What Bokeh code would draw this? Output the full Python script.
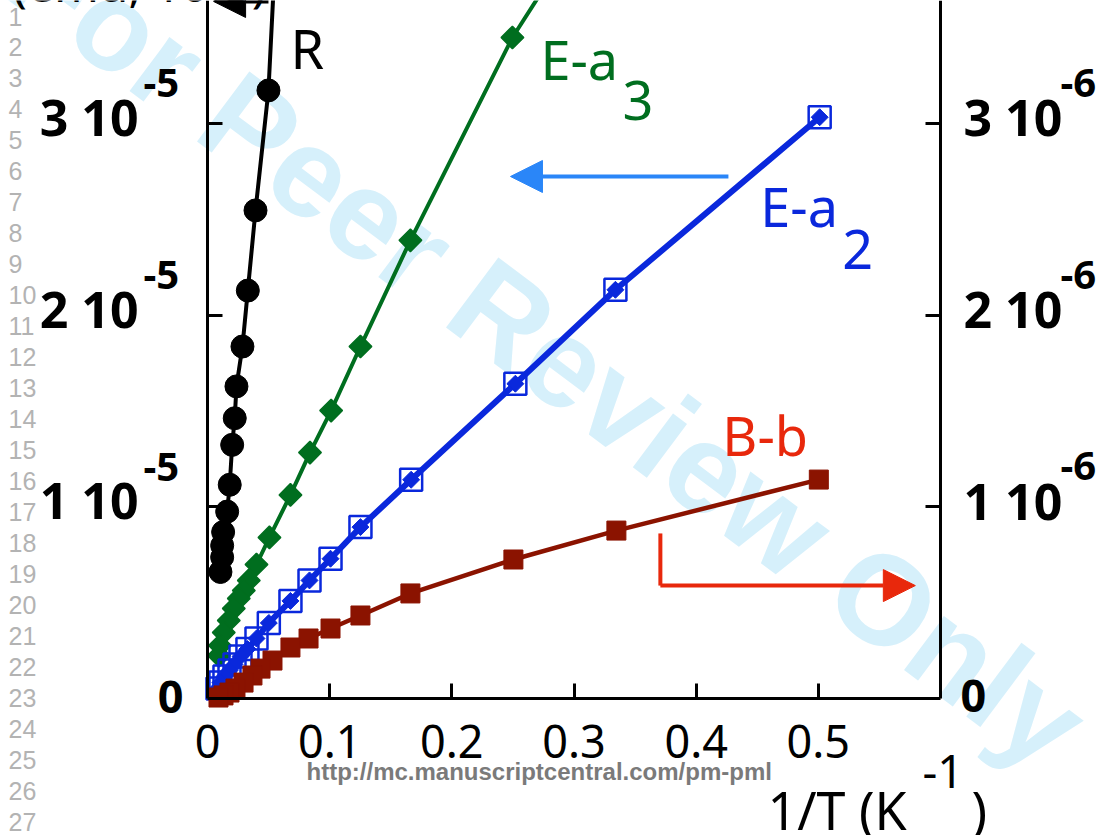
from bokeh.plotting import figure
from bokeh.models import Range1d, LinearAxis, FixedTicker, Label, Arrow, NormalHead
from bokeh.embed import file_html
from bokeh.resources import INLINE

# 1/T (K^-1) against the measured quantity.
# R, E-a3 and E-a2 are read on the left axis (units of 1e-5),
# B-b on the right axis (units of 1e-6).
r_x = [0.0667, 0.0499, 0.0393, 0.0330, 0.0286, 0.0237, 0.0223, 0.0202,
       0.0182, 0.0161, 0.0128, 0.0120, 0.0120, 0.0106]
r_y = [5.30, 3.172, 2.546, 2.128, 1.836, 1.628, 1.462, 1.323,
       1.115, 0.975, 0.868, 0.798, 0.737, 0.66]

ea3_x = [0.3333, 0.2496, 0.1661, 0.1252, 0.1012, 0.0839, 0.0679, 0.0507,
         0.0401, 0.0338, 0.0297, 0.0256, 0.0215, 0.0174, 0.0133, 0.0102, 0.0094]
ea3_y = [4.28, 3.448, 2.390, 1.836, 1.502, 1.283, 1.062, 0.840,
         0.699, 0.616, 0.563, 0.522, 0.469, 0.407, 0.344, 0.276, 0.224]

ea2_x = [0.5011, 0.3339, 0.2520, 0.1667, 0.1252, 0.1007, 0.0835, 0.0679,
         0.0502, 0.0401, 0.0327, 0.0270, 0.0221, 0.0180, 0.0139, 0.0106, 0.0082]
ea2_y = [3.032, 2.132, 1.642, 1.141, 0.894, 0.729, 0.616, 0.509,
         0.394, 0.313, 0.258, 0.219, 0.177, 0.146, 0.115, 0.083, 0.052]

bb_x = [0.5004, 0.3347, 0.2504, 0.1661, 0.1252, 0.1007, 0.0827, 0.0679,
        0.0532, 0.0434, 0.0368, 0.0295, 0.0229, 0.0180, 0.0131, 0.0090]
bb_y = [1.142, 0.876, 0.725, 0.548, 0.433, 0.365, 0.313, 0.266,
        0.198, 0.156, 0.120, 0.083, 0.052, 0.031, 0.016, 0.005]

x_tick_values = [0, 0.1, 0.2, 0.3, 0.4, 0.5]
x_tick_labels = ["0", "0.1", "0.2", "0.3", "0.4", "0.5"]
left_tick_values = [1, 2, 3]
left_tick_labels = ["1 10", "2 10", "3 10"]
right_tick_values = [1, 2, 3]
right_tick_labels = ["1 10", "2 10", "3 10"]
left_exponent = "-5"
right_exponent = "-6"

BLACK = "#000000"
GREEN = "#006e1f"
BLUE = "#0a28dc"
DARKRED = "#8b1300"
RED = "#e8280c"
LIGHTBLUE = "#2a86f8"
FONT = "Noto Sans"

# page geometry: the axes box sits at these pixel edges of the page
W, H = 1108, 835
BOX_L, BOX_R, BOX_B = 207, 940, 698
X_MAX = 0.6
Y_MAX = 3.641
KX = (BOX_R - BOX_L) / X_MAX   # pixels per x unit
KY = BOX_B / Y_MAX             # pixels per y unit

# the drawing frame spans the whole page so that labels around the box show
p = figure(width=W, height=H,
           x_range=Range1d(-BOX_L / KX, (W - BOX_L) / KX),
           y_range=Range1d(-(H - BOX_B) / KY, Y_MAX),
           x_axis_type=None, y_axis_type=None,
           output_backend="svg", toolbar_location=None,
           min_border=0)
p.extra_y_ranges = {"right": Range1d(-(H - BOX_B) / KY, Y_MAX)}
p.outline_line_color = None
p.background_fill_color = "white"
p.border_fill_color = "white"

# watermark behind the data
p.add_layout(Label(x=547, y=348, x_units="canvas", y_units="canvas",
                   text="For Peer Review Only", angle=-0.642,
                   text_align="center", text_baseline="middle",
                   text_font="Liberation Sans", text_font_style="bold",
                   text_font_size="127px", text_color="#d6f0fb",
                   level="underlay"))


def make_axis(ticks, **kw):
    ax = LinearAxis(ticker=FixedTicker(ticks=[], minor_ticks=ticks), **kw)
    ax.axis_line_width = 3
    ax.axis_line_color = "black"
    ax.minor_tick_in = 15
    ax.minor_tick_out = 0
    ax.minor_tick_line_width = 3
    ax.minor_tick_line_color = "black"
    ax.major_tick_line_color = None
    ax.major_label_text_font_size = "0px"
    return ax


p.add_layout(make_axis(x_tick_values[1:], fixed_location=0,
                       bounds=(0, X_MAX)), "below")
p.add_layout(make_axis(left_tick_values, fixed_location=0,
                       bounds=(0, Y_MAX)), "left")
p.add_layout(make_axis(right_tick_values, fixed_location=X_MAX,
                       bounds=(0, Y_MAX), y_range_name="right"), "right")

# series
p.line(r_x, r_y, line_color=BLACK, line_width=4)
p.scatter(r_x, r_y, marker="circle", size=23, fill_color=BLACK, line_color=BLACK)

p.line(ea3_x, ea3_y, line_color=GREEN, line_width=4)
p.scatter(ea3_x, ea3_y, marker="square", angle=0.785398, size=16,
          fill_color=GREEN, line_color=GREEN, line_width=1.5)

p.line(ea2_x, ea2_y, line_color=BLUE, line_width=6)
p.scatter(ea2_x, ea2_y, marker="square", size=22, fill_color=None,
          line_color=BLUE, line_width=2.5)
p.scatter(ea2_x, ea2_y, marker="square", angle=0.785398, size=12,
          fill_color=BLUE, line_color=BLUE)

p.line(bb_x, bb_y, line_color=DARKRED, line_width=4.5, y_range_name="right")
p.scatter(bb_x, bb_y, marker="square", size=19, fill_color=DARKRED,
          line_color=DARKRED, y_range_name="right")


def text(x, y, t, size, color="black", align="left", bold=False,
         font=FONT, range_name="default", units="data"):
    p.add_layout(Label(x=x, y=y, text=t, x_units=units, y_units=units,
                       text_align=align, text_baseline="middle",
                       text_font=font, text_font_size=size,
                       text_font_style="bold" if bold else "normal",
                       text_color=color, y_range_name=range_name))


# tick labels (pixel gaps converted into data units)
for v, t in zip(x_tick_values, x_tick_labels):
    text(v, -43 / KY, t, "45px", align="center")

text(-24 / KX, 2 / KY, "0", "45px", align="right", bold=True)
for v, t in zip(left_tick_values, left_tick_labels):
    text(-69 / KX, v + 6.5 / KY, t, "50px", align="right", bold=True)
    text(-64 / KX, v + 40 / KY, left_exponent, "40px", bold=True)

text(X_MAX + 20 / KX, 3 / KY, "0", "45px", bold=True, range_name="right")
for v, t in zip(right_tick_values, right_tick_labels):
    text(X_MAX + 23 / KX, v + 6 / KY, t, "50px", bold=True, range_name="right")
    text(X_MAX + 120 / KX, v + 40.5 / KY, right_exponent, "40px", bold=True,
         range_name="right")

# axis titles
text(12, -17, "(emu, 10-5)", "48px", units="canvas")
text(767, 808.5, "1/T (K", "52px", units="canvas")
text(922, 770.5, "-1", "46px", units="canvas")
text(971, 808.5, ")", "52px", units="canvas")

# series names
text(0.0679, 3.641 - 47.5 / KY, "R", "54px")
text(0.2725, 3.641 - 58 / KY, "E-a", "54px", color=GREEN)
text(0.3396, 3.641 - 100 / KY, "3", "54px", color=GREEN)
text(0.4525, 3.641 - 205 / KY, "E-a", "54px", color=BLUE)
text(0.5196, 3.641 - 249 / KY, "2", "54px", color=BLUE)
text(0.4214, 3.641 - 434 / KY, "B-b", "54px", color=RED)

# axis-pointer arrows
p.add_layout(Arrow(x_start=0.0499, y_start=3.636, x_end=0.005, y_end=3.636,
                   line_color=BLACK, line_width=4,
                   end=NormalHead(size=32, fill_color=BLACK, line_color=BLACK)))
p.add_layout(Arrow(x_start=0.4264, y_start=2.723, x_end=0.2480, y_end=2.723,
                   line_color=LIGHTBLUE, line_width=4,
                   end=NormalHead(size=32, fill_color=LIGHTBLUE,
                                  line_color=LIGHTBLUE)))
p.add_layout(Arrow(x_start=0.3707, y_start=0.861, x_end=0.3707, y_end=0.589,
                   line_color=RED, line_width=4, end=None))
p.add_layout(Arrow(x_start=0.3707, y_start=0.589, x_end=0.5794, y_end=0.589,
                   line_color=RED, line_width=4,
                   end=NormalHead(size=32, fill_color=RED, line_color=RED)))

# manuscript line numbers and footer
for i in range(1, 28):
    text(8, 16 + 30.98 * (i - 1), str(i), "25px", color="#b3b3b3",
         font="Liberation Sans", units="canvas")
text(306, 771, "http://mc.manuscriptcentral.com/pm-pml", "24px",
     color="#7a7a7a", bold=True, font="Liberation Sans", units="canvas")

open("out.html", "w").write(file_html(p, INLINE))
